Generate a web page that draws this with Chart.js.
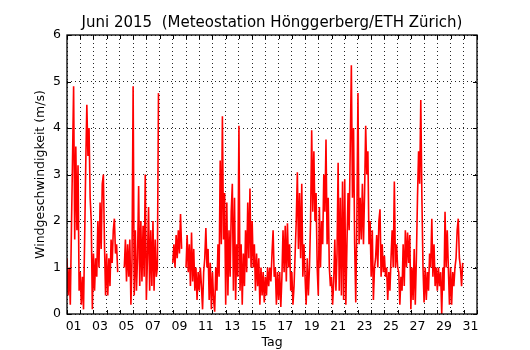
<!DOCTYPE html>
<html><head><meta charset="utf-8">
<script src="https://cdn.jsdelivr.net/npm/chart.js@4.4.1/dist/chart.umd.min.js"></script>
<style>html,body{margin:0;padding:0;background:#fff;}#c{display:block;}</style>
</head><body>
<canvas id="c" width="530" height="350"></canvas>
<script>
const TITLE = 'Juni 2015  (Meteostation Hönggerberg/ETH Zürich)';
const X_LABEL = 'Tag';
const Y_LABEL = 'Windgeschwindigkeit (m/s)';
const dayLabels = ['01','02','03','04','05','06','07','08','09','10','11','12','13','14','15','16',
  '17','18','19','20','21','22','23','24','25','26','27','28','29','30','31'];
const yRange = [0, 6];
const samplesPerDay = 12; // two-hourly readings, starting 1 June 00:00
// wind speed in m/s, one row per day (null = no data)
const windSpeed = [
  1.2, 0.4, 1.0, 0.2, 1.8, 3.3, 4.9, 1.6, 3.6, 1.8, 3.2, 0.5,
  0.9, 0.2, 0.8, 0.1, 1.6, 3.2, 4.5, 3.4, 4.0, 2.5, 2.0, 0.1,
  1.3, 0.5, 1.2, 0.8, 2.0, 1.0, 2.4, 1.4, 2.8, 3.0, 1.5, 0.4,
  1.3, 0.4, 1.2, 0.6, 1.6, 1.1, 1.8, 2.05, 1.3, 1.5, 0.9, null,
  null, null, null, null, 1.0, 1.6, 0.7, 1.5, 0.8, 1.6, 0.2, 1.2,
  4.9, 0.4, 1.8, 0.5, 1.2, 2.75, 0.6, 2.0, 0.7, 1.9, 0.8, 3.0,
  0.3, 1.2, 2.3, 0.5, 1.8, 0.6, 2.0, 0.5, 1.6, 0.8, 1.0, 4.75,
  null, null, null, null, null, null, null, null, null, null, null, null,
  1.1, 1.5, 1.0, 1.7, 1.2, 1.8, 1.3, 2.15, 1.4, null, null, null,
  1.0, 1.7, 0.9, 1.5, 0.6, 1.75, 0.7, 1.4, 0.5, 1.0, 0.3, 0.9,
  0.5, 1.0, 0.6, 0.1, 0.9, 1.2, 1.85, 1.0, 1.4, 0.3, 1.1, 0.1,
  0.9, 0.3, 0.05, 1.0, 0.5, 1.5, 0.8, 3.3, 1.5, 4.25, 1.6, 2.6,
  0.2, 2.4, 0.4, 1.8, 0.8, 2.2, 2.8, 0.5, 2.5, 0.3, 1.5, 0.8,
  4.05, 0.5, 1.5, 0.2, 1.3, 0.6, 1.8, 0.9, 2.4, 1.2, 2.7, 1.0,
  2.0, 1.0, 1.5, 0.5, 1.3, 0.6, 1.2, 0.2, 1.0, 0.4, 0.9, 0.25,
  0.8, 0.4, 1.0, 0.6, 1.0, 0.7, 1.3, 1.8, 0.8, 1.0, 0.2, 0.9,
  0.3, 0.9, 0.15, 0.8, 1.8, 0.9, 1.9, 0.7, 1.95, 1.0, 1.5, 0.5,
  0.9, 0.2, 0.6, 1.3, 2.0, 3.05, 1.4, 2.6, 1.2, 2.8, 0.8, 1.5,
  0.8, 0.2, 1.2, 0.4, 1.0, 2.0, 3.95, 2.2, 3.5, 2.0, 2.6, 1.0,
  0.4, 2.3, 1.0, 2.0, 1.5, 3.0, 2.2, 3.75, 1.5, 2.5, 1.0, 0.6,
  0.8, 0.2, 0.7, 1.6, 0.5, 1.3, 3.25, 0.5, 2.5, 0.4, 2.85, 0.3,
  2.9, 0.2, 1.5, 2.6, 1.8, 3.6, 5.35, 2.5, 4.0, 1.5, 0.25, 2.0,
  4.75, 1.5, 2.5, 1.6, 2.8, 1.5, 2.6, 4.05, 3.0, 3.5, 1.5, 2.0,
  0.8, 1.8, 0.3, 1.0, 1.2, 1.7, 1.0, 2.0, 2.25, 0.8, 1.5, 0.9,
  1.25, 0.8, 1.0, 0.3, 0.9, 0.5, 1.2, 1.8, 1.0, 2.85, 1.0, 1.5,
  1.0, 0.9, 0.2, 0.8, 0.5, 1.5, 0.6, 1.8, 1.0, 1.75, 1.1, 1.7,
  0.1, 1.0, 0.3, 1.4, 0.2, 1.2, 2.5, 3.5, 2.8, 4.6, 2.5, 1.0,
  0.25, 1.0, 0.3, 0.9, 0.5, 1.3, 1.0, 2.05, 0.8, 1.5, 0.6, 1.0,
  0.5, 1.0, 0.6, 0.9, 0.0, 1.0, 0.5, 2.2, 1.0, 1.8, 1.0, 0.2,
  1.0, 0.2, 0.9, 0.6, 1.0, 1.2, 1.8, 2.05, 1.2, 1.0, 0.6, 1.1
];

const FONT = 'DejaVu Sans';
const points = windSpeed.map((v, i) => ({x: i / samplesPerDay, y: v}));

const framePlugin = {
  id: 'frame',
  afterDraw(chart) {
    const {ctx, chartArea: a, scales: {x, y}} = chart;
    ctx.save();
    ctx.strokeStyle = '#000';
    ctx.lineWidth = 1;
    for (let d = 0; d <= dayLabels.length; d++) {
      const px = Math.round(x.getPixelForValue(d)) + 0.5;
      ctx.beginPath();
      ctx.moveTo(px, a.bottom); ctx.lineTo(px, a.bottom - 4);
      ctx.moveTo(px, a.top); ctx.lineTo(px, a.top + 4);
      ctx.stroke();
    }
    for (let v = yRange[0]; v <= yRange[1]; v++) {
      const py = Math.round(y.getPixelForValue(v)) + 0.5;
      ctx.beginPath();
      ctx.moveTo(a.left, py); ctx.lineTo(a.left + 4, py);
      ctx.moveTo(a.right, py); ctx.lineTo(a.right - 4, py);
      ctx.stroke();
    }
    ctx.lineWidth = 1.3;
    ctx.strokeRect(a.left, a.top, a.right - a.left, a.bottom - a.top);
    ctx.restore();
  }
};

new Chart(document.getElementById('c'), {
  type: 'line',
  data: {
    datasets: [{
      data: points,
      borderColor: '#ff0000',
      borderWidth: 1.6,
      pointRadius: 0,
      tension: 0,
      spanGaps: false,
      fill: false
    }]
  },
  options: {
    responsive: false,
    animation: false,
    layout: {padding: {left: 0, right: 53, top: 0, bottom: 0}},
    plugins: {
      legend: {display: false},
      tooltip: {enabled: false},
      title: {
        display: true, text: TITLE, fullSize: false, color: '#000',
        font: {family: FONT, size: 15, weight: 'normal'},
        padding: {top: 14, bottom: 3}
      }
    },
    scales: {
      x: {
        type: 'linear', min: 0, max: dayLabels.length,
        afterFit(s) { s.height = 36; },
        afterBuildTicks(s) {
          const t = [];
          for (let v = 0; v <= dayLabels.length; v += 0.5) t.push({value: v});
          s.ticks = t;
        },
        ticks: {
          autoSkip: false, maxRotation: 0, padding: 5.5, color: '#000',
          font: {family: FONT, size: 12.5},
          callback(v) {
            const d = v - 0.5;
            return (Number.isInteger(d) && d % 2 === 0) ? dayLabels[d] : '';
          }
        },
        grid: {
          drawTicks: false, lineWidth: 1,
          color: (c) => Number.isInteger(c.tick && c.tick.value) ? 'rgba(0,0,0,0.85)' : 'rgba(0,0,0,0)'
        },
        border: {display: false, dash: [1, 3]},
        title: {display: true, text: X_LABEL, color: '#000', font: {family: FONT, size: 12.5}, padding: {top: 0, bottom: 0}}
      },
      y: {
        type: 'linear', min: yRange[0], max: yRange[1],
        afterFit(s) { s.width = 67; },
        ticks: {stepSize: 1, padding: 6, color: '#000', font: {family: FONT, size: 12.5}},
        grid: {drawTicks: false, lineWidth: 1, color: 'rgba(0,0,0,0.85)'},
        border: {display: false, dash: [1, 3]},
        title: {display: true, text: Y_LABEL, color: '#000', font: {family: FONT, size: 12.5}, padding: {top: 33.4, bottom: 0}}
      }
    }
  },
  plugins: [framePlugin]
});
</script>
</body></html>
